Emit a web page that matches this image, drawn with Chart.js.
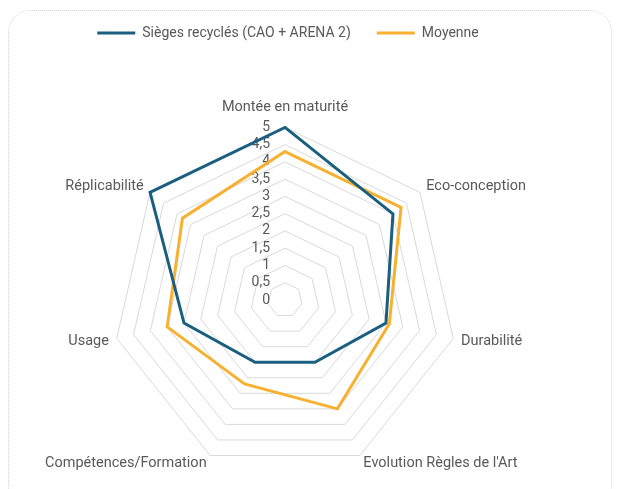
<!DOCTYPE html>
<html>
<head>
<meta charset="utf-8">
<script src="https://cdn.jsdelivr.net/npm/chart.js@4"></script>
<style>
html,body{margin:0;padding:0;background:#fff;}
#card{position:absolute;left:8px;top:10px;width:602px;height:495px;border:1px dotted #d6d6d6;border-radius:22px;}
#wrap{position:absolute;left:0;top:0;width:618px;height:489px;}
</style>
</head>
<body>
<div id="card"></div>
<div id="wrap"><canvas id="radar"></canvas></div>
<script>
const axes=['Montée en maturité','Eco-conception','Durabilité',"Evolution Règles de l'Art",'Compétences/Formation','Usage','Réplicabilité'];
const sieges=[5,4,3,2,2,3,5];
const moyenne=[4.3,4.3,3.1,3.5,2.7,3.5,3.8];
const tickMin=0,tickMax=5,tickStep=0.5;

const textColor='#595959';
const fontFam="Roboto, 'Liberation Sans', sans-serif";

// tick labels drawn left of the vertical axis, like Excel does
const tickLabels={
    id:'tickLabels',
    beforeDatasetsDraw(chart){
        const s=chart.scales.r;
        const ctx=chart.ctx;
        ctx.save();
        ctx.font='14px '+fontFam;
        ctx.fillStyle=textColor;
        ctx.textAlign='right';
        ctx.textBaseline='middle';
        s.ticks.forEach(t=>{
            const y=s.yCenter-s.getDistanceFromCenterForValue(t.value);
            ctx.fillText(String(t.value).replace('.',','),s.xCenter-15,y);
        });
        ctx.restore();
    }
};

// extra room under the legend
const legendGap={
    id:'legendGap',
    beforeInit(chart){
        const fit=chart.legend.fit;
        chart.legend.fit=function(){
            fit.bind(chart.legend)();
            this.height+=35;
        };
    }
};

new Chart(document.getElementById('radar'),{
    type:'radar',
    data:{
        labels:axes,
        datasets:[
            {label:'Sièges recyclés (CAO + ARENA 2)',data:sieges,borderColor:'#1a5f7f',backgroundColor:'#1a5f7f',borderWidth:3,pointRadius:0,fill:false},
            {label:'Moyenne',data:moyenne,borderColor:'#f7b030',backgroundColor:'#f7b030',borderWidth:3,pointRadius:0,fill:false}
        ]
    },
    options:{
        responsive:true,
        maintainAspectRatio:false,
        animation:false,
        layout:{padding:{left:44,right:86,top:0,bottom:2}},
        plugins:{
            legend:{
                position:'top',
                labels:{usePointStyle:true,pointStyle:'line',pointStyleWidth:38,color:textColor,font:{size:14,family:fontFam},padding:26}
            },
            tooltip:{enabled:false}
        },
        scales:{
            r:{
                min:tickMin,max:tickMax,
                ticks:{stepSize:tickStep,display:false},
                grid:{color:'#d9d9d9',lineWidth:1},
                angleLines:{display:false},
                pointLabels:{
                    color:textColor,
                    font:ctx=>({size:14.5,family:fontFam,lineHeight:ctx.index===0?1.2:0.1}),
                    padding:ctx=>ctx.index===0?11:8
                }
            }
        }
    },
    plugins:[tickLabels,legendGap]
});
</script>
</body>
</html>
